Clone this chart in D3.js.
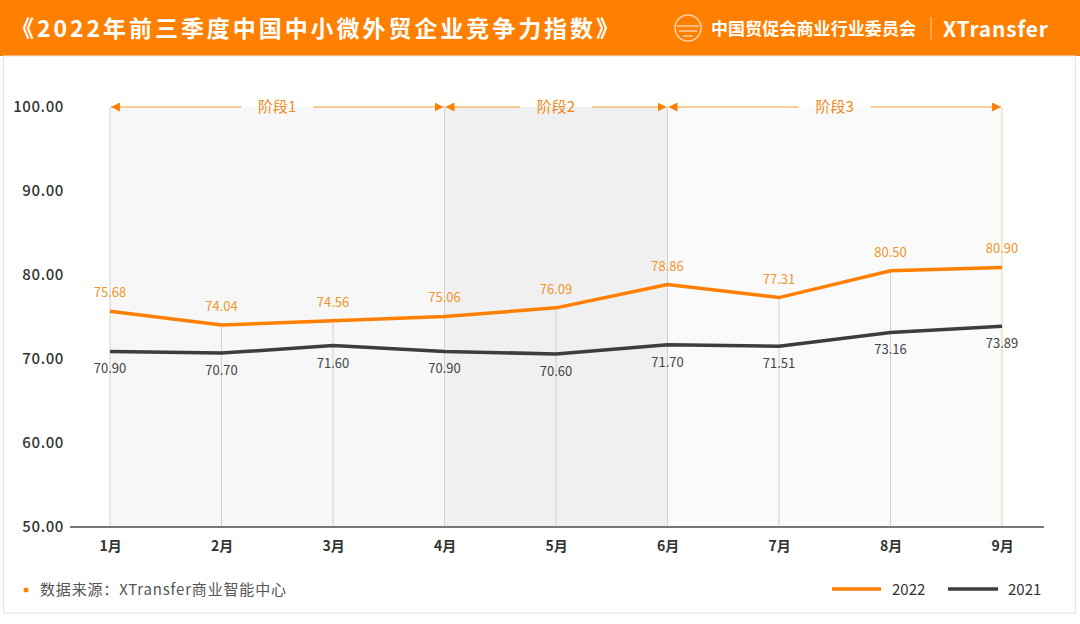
<!DOCTYPE html>
<html><head><meta charset="utf-8">
<script src="https://cdn.jsdelivr.net/npm/d3@7"></script>
<style>body{margin:0;background:#fff}svg{display:block;font-family:"Noto Sans CJK SC","Noto Sans",sans-serif}</style>
</head><body><svg id="c" width="1080" height="624"></svg>
<script>
const months = ["1月","2月","3月","4月","5月","6月","7月","8月","9月"];
const v2022 = [75.68,74.04,74.56,75.06,76.09,78.86,77.31,80.50,80.90];
const v2021 = [70.90,70.70,71.60,70.90,70.60,71.70,71.51,73.16,73.89];
const yTicks = [50,60,70,80,90,100];
const stages = [{name:"阶段1",from:0,to:3},{name:"阶段2",from:3,to:5},{name:"阶段3",from:5,to:8}];
const stageFills = ["#f7f7f7","#f0f0f0","#fafafa"];
const title = "《2022年前三季度中国中小微外贸企业竞争力指数》";
const source = "数据来源：XTransfer商业智能中心";

const svg = d3.select("#c");
const ORANGE = "#ff7f00";
// header
svg.append("rect").attr("x",0).attr("y",0).attr("width",1080).attr("height",56).attr("fill",ORANGE);
svg.append("text").attr("x",11).attr("y",37).attr("fill","#fff").attr("font-size",23).attr("font-weight",700)
  .attr("textLength",608).attr("lengthAdjust","spacing").text(title);
// logo emblem
const lg = svg.append("g").attr("transform","translate(688,28)").attr("fill","none").attr("stroke","#ffd2a6").attr("stroke-width",1.6);
lg.append("circle").attr("r",13);
lg.append("path").attr("d","M-11,-2 L11,-2 M-9,3 L9,3 M-5,8 L5,8");
svg.append("text").attr("x",711).attr("y",35).attr("fill","#fff").attr("font-size",17).attr("font-weight",700)
  .attr("textLength",205).attr("lengthAdjust","spacing").text("中国贸促会商业行业委员会");
svg.append("line").attr("x1",931).attr("x2",931).attr("y1",17).attr("y2",40).attr("stroke","#ffd2a6").attr("stroke-width",1);
svg.append("text").attr("x",943).attr("y",37).attr("fill","#fff").attr("font-size",21).attr("font-weight",700)
  .attr("textLength",105).attr("lengthAdjust","spacing").text("XTransfer");
// card border
svg.append("rect").attr("x",3.5).attr("y",56).attr("width",1072).attr("height",557).attr("fill","none").attr("stroke","#e4e4e4");

const x = d3.scalePoint().domain(months).range([110,1002]);
const y = d3.scaleLinear().domain([50,100]).range([527,107]);

// stage shading
stages.forEach((s,i)=>{
  svg.append("rect").attr("x",x(months[s.from])).attr("y",y(100)).attr("width",x(months[s.to])-x(months[s.from])).attr("height",y(50)-y(100)).attr("fill",stageFills[i]);
});
// vertical drop lines
months.forEach((m,i)=>{
  const full = stages.some(s=>s.from===i||s.to===i);
  const top = full ? y(100) : y(v2022[i]);
  svg.append("line").attr("x1",x(m)).attr("x2",x(m)).attr("y1",top).attr("y2",y(50))
    .attr("stroke", i===months.length-1 ? "#e6d7a8" : "#d0d0d0").attr("stroke-width",1);
});
// axes
const yAxis = svg.append("g").attr("transform","translate(64,0)").call(d3.axisLeft(y).tickValues(yTicks).tickFormat(d3.format(".2f")).tickSize(0).tickPadding(0));
yAxis.select(".domain").remove();
yAxis.selectAll("text").attr("font-size",15).attr("fill","#333").attr("font-weight",500).attr("letter-spacing",0.6).attr("font-family","'Noto Sans CJK SC',sans-serif");
svg.append("line").attr("x1",70).attr("x2",1044).attr("y1",y(50)).attr("y2",y(50)).attr("stroke","#777").attr("stroke-width",2);
const xAxis = svg.append("g").attr("transform",`translate(0,${y(50)})`).call(d3.axisBottom(x).tickSize(0).tickPadding(14));
xAxis.select(".domain").remove();
xAxis.selectAll("text").attr("font-size",14).attr("fill","#333").attr("font-weight",700).attr("font-family","'Noto Sans CJK SC',sans-serif");

// stage arrows
const defs = svg.append("defs");
defs.append("marker").attr("id","ah").attr("viewBox","0 0 10 10").attr("refX",10).attr("refY",5).attr("markerWidth",9).attr("markerHeight",9).attr("orient","auto-start-reverse").attr("markerUnits","userSpaceOnUse")
  .append("path").attr("d","M0,0 L10,5 L0,10 Z").attr("fill",ORANGE);
stages.forEach(s=>{
  const x0 = x(months[s.from])+1, x1 = x(months[s.to])-1, cx=(x0+x1)/2, yy=y(100);
  svg.append("line").attr("x1",cx-36).attr("x2",x0).attr("y1",yy).attr("y2",yy).attr("stroke","#f0a030").attr("stroke-width",1).attr("marker-end","url(#ah)");
  svg.append("line").attr("x1",cx+36).attr("x2",x1).attr("y1",yy).attr("y2",yy).attr("stroke","#f0a030").attr("stroke-width",1).attr("marker-end","url(#ah)");
  svg.append("text").attr("x",cx).attr("y",yy+5).attr("text-anchor","middle").attr("font-size",15).attr("fill","#f08a20").text(s.name);
});

// lines
const line = d3.line().x((d,i)=>x(months[i])).y(d=>y(d));
svg.append("path").datum(v2021).attr("d",line).attr("fill","none").attr("stroke","#3d3d3d").attr("stroke-width",3.5);
svg.append("path").datum(v2022).attr("d",line).attr("fill","none").attr("stroke",ORANGE).attr("stroke-width",3.5);
// labels
svg.selectAll(".l22").data(v2022).enter().append("text").attr("x",(d,i)=>x(months[i])).attr("y",d=>y(d)-14)
  .attr("text-anchor","middle").attr("font-size",13).attr("fill","#f0962a").text(d=>d.toFixed(2));
svg.selectAll(".l21").data(v2021).enter().append("text").attr("x",(d,i)=>x(months[i])).attr("y",d=>y(d)+22)
  .attr("text-anchor","middle").attr("font-size",13).attr("fill","#444").text(d=>d.toFixed(2));

// footer
svg.append("circle").attr("cx",26).attr("cy",590).attr("r",2.5).attr("fill",ORANGE);
svg.append("text").attr("x",40).attr("y",595).attr("font-size",15).attr("fill","#555")
  .attr("textLength",246).attr("lengthAdjust","spacing").text(source);
svg.append("line").attr("x1",832).attr("x2",881).attr("y1",589).attr("y2",589).attr("stroke",ORANGE).attr("stroke-width",3.5);
svg.append("text").attr("x",892).attr("y",595).attr("font-size",15).attr("fill","#333").text("2022");
svg.append("line").attr("x1",948).attr("x2",998).attr("y1",589).attr("y2",589).attr("stroke","#3d3d3d").attr("stroke-width",3.5);
svg.append("text").attr("x",1008).attr("y",595).attr("font-size",15).attr("fill","#333").text("2021");
</script></body></html>
